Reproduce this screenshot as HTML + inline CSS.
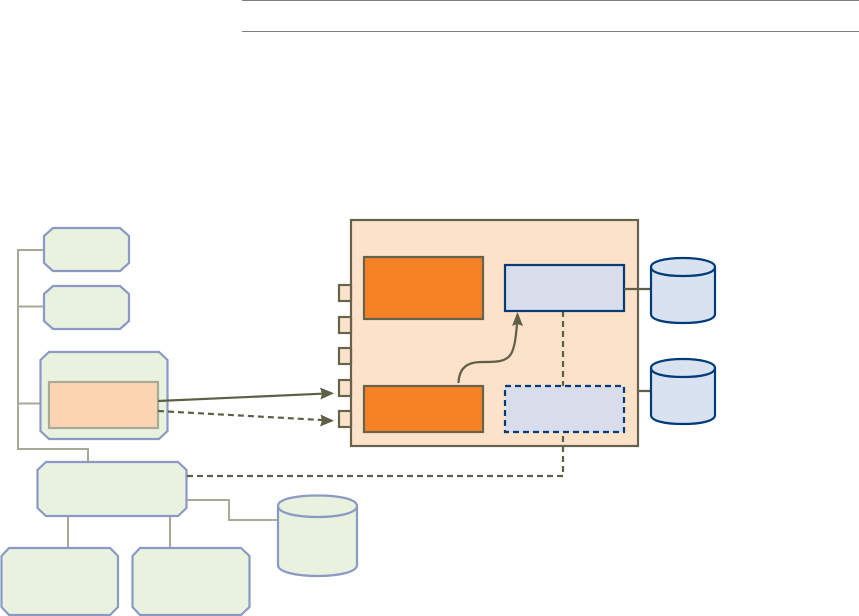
<!DOCTYPE html>
<html>
<head>
<meta charset="utf-8">
<style>
html,body{margin:0;padding:0;background:#fff;}
svg{display:block;}
.g{fill:#e9f2df;stroke:#8a9ac4;stroke-width:2.2;}
.t{fill:none;stroke:#a8a997;stroke-width:2;}
.d{fill:none;stroke:#5f5f47;stroke-width:2.2;}
.dd{fill:none;stroke:#5f5f47;stroke-width:2.2;stroke-dasharray:6 4;}
.p{fill:#fde2ca;stroke:#65634b;stroke-width:2.2;}
.o{fill:#f78226;stroke:#65634b;stroke-width:2.2;}
.b{fill:#d9dcea;stroke:#003b7a;stroke-width:2.2;}
.c{fill:#d9e2f0;stroke:#003b7a;stroke-width:2.2;}
</style>
</head>
<body>
<svg width="859" height="616" viewBox="0 0 859 616" xmlns="http://www.w3.org/2000/svg">
<rect width="859" height="616" fill="#fff"/>
<line x1="242" y1="0.5" x2="859" y2="0.5" stroke="#808080" stroke-width="1"/>
<line x1="242" y1="31.5" x2="859" y2="31.5" stroke="#808080" stroke-width="1"/>

<!-- tree connectors -->
<path class="t" d="M44 250H18V449H88V462M18 306.500H44M18 403.500H40"/>
<path class="t" d="M68 516V548M170 516V548M187 500H229V520H278"/>

<!-- left nodes -->
<polygon class="g" points="53,228 120,228 129,236 129,263 120,271 53,271 44,263 44,236"/>
<polygon class="g" points="53,286 120,286 129,294 129,321 120,329 53,329 44,321 44,294"/>
<polygon class="g" points="49,352 159,352 167.500,360 167.500,431 159,439 49,439 40.500,431 40.500,360"/>
<rect x="49" y="382" width="109" height="46" fill="#fdd4b1" stroke="#a8a997" stroke-width="2.2"/>
<polygon class="g" points="46,462 178,462 186.500,470 186.500,508 178,516 46,516 37.500,508 37.500,470"/>
<polygon class="g" points="9,548 110,548 118,556 118,607 110,615 9,615 1.500,607 1.500,556"/>
<polygon class="g" points="140,548 241,548 249.500,556 249.500,607 241,615 140,615 132.500,607 132.500,556"/>
<path class="g" d="M278 506V565C278 572 296 576 317.500 576C339 576 357 572 357 565V506C357 499 339 495.500 317.500 495.500C296 495.500 278 499 278 506Z"/>
<path class="g" style="fill:none" d="M278 506C278 513 296 517 317.500 517C339 517 357 513 357 506"/>

<!-- main box -->
<rect class="p" x="351" y="220" width="287" height="226"/>
<rect class="p" x="339" y="285" width="12" height="16"/>
<rect class="p" x="339" y="317" width="12" height="16"/>
<rect class="p" x="339" y="348" width="12" height="16"/>
<rect class="p" x="339" y="380" width="12" height="16"/>
<rect class="p" x="339" y="411" width="12" height="16"/>
<rect class="o" x="364" y="257" width="119" height="62"/>
<rect class="o" x="364" y="386" width="119" height="46"/>

<!-- dashed links -->
<path class="dd" d="M563 311V386"/>
<path class="dd" d="M187 476H563V432"/>

<rect class="b" x="505" y="265" width="119" height="46"/>
<rect class="b" x="505" y="386" width="119" height="46" stroke-dasharray="6 4"/>

<!-- curved arrow -->
<path class="d" d="M458.500 383C459 368 467 362 482 362C497 362 506 362 511 354C515 347 516 335 517 324"/>
<polygon points="517.500,312 523,326 517,324 512,326" fill="#5f5f47"/>

<!-- right connectors -->
<path class="d" d="M624 289H651M638 391H651"/>

<!-- right cylinders -->
<path class="c" d="M651 267V314C651 320 665 323 683 323C701 323 715 320 715 314V267C715 261.500 701 258 683 258C665 258 651 261.500 651 267Z"/>
<path class="c" style="fill:none" d="M651 267C651 273 665 276 683 276C701 276 715 273 715 267"/>
<path class="c" d="M651 368V415C651 421 665 424 683 424C701 424 715 421 715 415V368C715 362.500 701 359 683 359C665 359 651 362.500 651 368Z"/>
<path class="c" style="fill:none" d="M651 368C651 374 665 377 683 377C701 377 715 374 715 368"/>

<!-- external arrows -->
<line class="d" x1="158" y1="401" x2="322" y2="393.700"/>
<polygon points="334,393.200 320,387.500 322,393.700 320.500,399.500" fill="#5f5f47"/>
<line class="dd" x1="158" y1="411" x2="322" y2="420"/>
<polygon points="334,420.800 320.500,414.500 322,420.500 320,426.500" fill="#5f5f47"/>
</svg>
</body>
</html>
